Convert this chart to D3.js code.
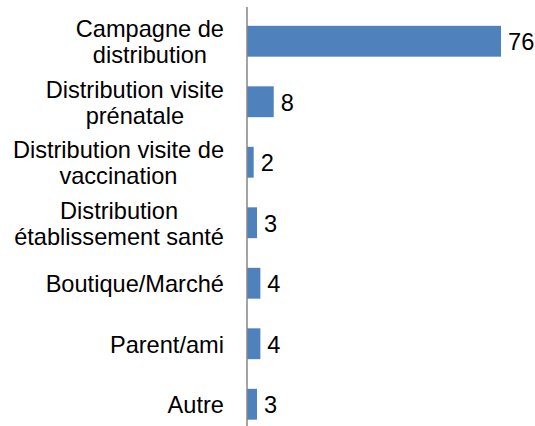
<!DOCTYPE html>
<html>
<head>
<meta charset="utf-8">
<script src="https://cdn.jsdelivr.net/npm/d3@7"></script>
<style>
  html, body { margin: 0; padding: 0; background: #fff; }
  svg { display: block; }
  text { font-family: "Liberation Sans", Arial, sans-serif; fill: #000; }
</style>
</head>
<body>
<svg id="chart" width="535" height="426"></svg>
<script>
// Source of the nets (category labels, split into lines) and values
const categories = [
  ["Campagne de", "distribution"],
  ["Distribution visite", "prénatale"],
  ["Distribution visite de", "vaccination"],
  ["Distribution", "établissement santé"],
  ["Boutique/Marché"],
  ["Parent/ami"],
  ["Autre"]
];
const values = [76, 8, 2, 3, 4, 4, 3];

const svg = d3.select("#chart");
const fontSize = 23.6;
const lineHeight = 26;

const ids = categories.map((c, i) => i);

const x = d3.scaleLinear().domain([0, 80]).range([247, 514.4]);
const y = d3.scaleBand()
  .domain(ids)
  .range([11, 434.5])
  .paddingInner(0.49)
  .paddingOuter(0.245);

// bars
svg.append("g").selectAll("rect")
  .data(values)
  .join("rect")
  .attr("x", x(0))
  .attr("y", (d, i) => y(i))
  .attr("width", d => x(d) - x(0))
  .attr("height", y.bandwidth())
  .attr("fill", "#4F81BD");

// vertical category axis line
svg.append("line")
  .attr("x1", x(0)).attr("x2", x(0))
  .attr("y1", 7).attr("y2", 426)
  .attr("stroke", "#868686")
  .attr("stroke-width", 1.5);

// value labels
svg.append("g").selectAll("text")
  .data(values)
  .join("text")
  .attr("x", d => x(d) + 7)
  .attr("y", (d, i) => y(i) + y.bandwidth() / 2)
  .attr("dy", "0.38em")
  .attr("font-size", fontSize)
  .text(d => d);

// category labels: block right-aligned, lines centered within the block
const labelRight = 224;
const labels = svg.append("g");
categories.forEach((lines, i) => {
  const cy = y(i) + y.bandwidth() / 2;
  const g = labels.append("g");
  const texts = lines.map((ln, k) =>
    g.append("text")
      .attr("font-size", fontSize)
      .attr("text-anchor", "middle")
      .attr("y", cy + (k - (lines.length - 1) / 2) * lineHeight)
      .attr("dy", "0.38em")
      .text(ln)
  );
  const w = d3.max(texts, t => t.node().getComputedTextLength());
  texts.forEach(t => t.attr("x", labelRight - w / 2));
});
</script>
</body>
</html>
